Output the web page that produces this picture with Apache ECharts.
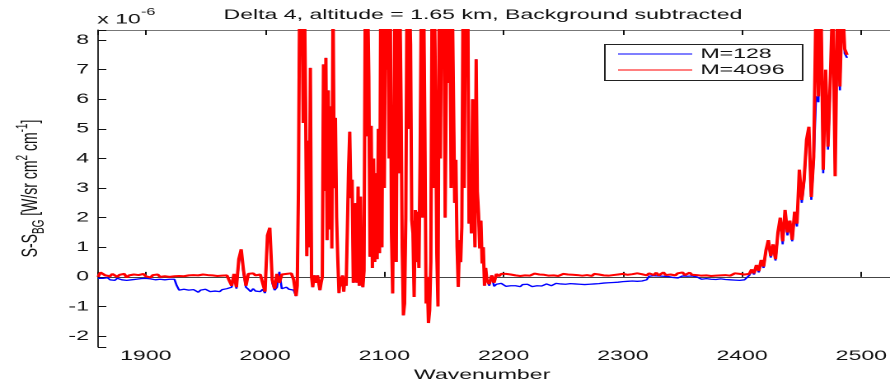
<!DOCTYPE html>
<html><head><meta charset="utf-8">
<script src="https://cdn.jsdelivr.net/npm/echarts@6/dist/echarts.min.js"></script>
<style>
html,body{margin:0;padding:0;background:#fff;overflow:hidden;}
#wrap{width:890px;height:379px;overflow:hidden;}
#chart{width:540px;height:379px;transform:scaleX(1.648148);transform-origin:0 0;}
</style></head><body><div id="wrap"><div id="chart"></div></div>
<script>
// Wavenumber grid segments (start, step) and values in units of 1e-6 W/sr cm^2 cm^-1
const lowStart = 1860, lowStep = 2;
const lowM4096 = [
0.0,0.15,0.1,0.05,0.08,0.02,0.1,0.05,0.0,0.07,
0.03,0.1,-0.02,0.05,0.0,0.08,0.02,0.06,0.0,0.1,
0.02,0.05,-0.02,0.06,0.02,0.08,0.0,0.05,0.02,0.07,
0.0,0.04,0.02,0.05,0.03,0.06,0.02,0.04,0.05,0.02,
0.06,0.03,0.05,0.02,0.08,0.04,0.06,0.02,0.05,0.08,
0.03,0.06,0.04,0.02,0.05,0.0,-0.3,0.1,-0.35,0.6,
0.93,0.2,-0.3,0.1,0.08,0.12,0.05,0.1,0.08,0.05,
-0.5,1.4,1.66,-0.1,-0.4,0.1,-0.2,0.08,0.05,0.1,
0.06,0.12,-0.1];
const lowM128 = [
-0.05,-0.1,-0.05,-0.08,-0.03,-0.1,-0.05,-0.12,-0.05,-0.08,
-0.1,-0.04,-0.12,-0.06,-0.1,-0.05,-0.08,-0.12,-0.06,-0.1,
-0.05,-0.1,-0.07,-0.05,-0.1,-0.06,-0.08,-0.04,-0.1,-0.06,
-0.08,-0.05,-0.08,-0.3,-0.45,-0.5,-0.42,-0.48,-0.45,-0.5,
-0.43,-0.47,-0.52,-0.45,-0.48,-0.42,-0.47,-0.5,-0.44,-0.48,
-0.45,-0.5,-0.43,-0.47,-0.4,-0.45,-0.35,0.05,-0.4,0.5,
0.85,0.1,-0.35,-0.42,-0.5,-0.4,-0.48,-0.45,-0.5,-0.42,
-0.55,1.35,1.6,-0.2,-0.45,-0.35,0.17,-0.4,-0.45,-0.35,
-0.42,-0.38,-0.45];

const bandStart = 2026, bandStep = 1;
const bandM4096 = [
-0.65,-0.3,3.0,9.5,7.5,9.5,5.2,9.5,5.9,0.7,
4.6,1.0,7.06,0.0,-0.35,0.05,0.1,-0.2,0.05,0.1,
-0.45,-0.2,0.0,7.18,2.9,7.4,1.24,6.3,1.6,5.76,
0.96,9.5,3.0,5.37,2.0,0.57,-0.55,0.0,-0.32,0.05,
-0.5,0.0,-0.3,1.58,3.62,4.9,2.66,3.28,-0.2,0.0,
2.49,-0.2,3.05,-0.3,2.71,0.0,-0.35,0.2,9.5,4.75,
9.5,6.77,0.68,5.1,0.3,4.0,0.5,3.5,0.6,5.0,
0.8,9.5,1.0,9.5,3.0,9.5,7.0,9.5,4.0,9.5,
1.5,-0.56,4.63,9.5,0.5,9.5,3.5,9.5,6.0,1.0,
-1.3,-0.9,2.0,9.5,5.0,9.5,7.85,1.92,1.47,-0.68,
2.26,0.5,2.2,0.3,4.0,9.5,2.0,9.5,5.0,-0.9,
0.0,-1.56,-1.13,0.5,9.5,3.0,9.5,6.0,0.8,-1.0,
9.5,4.0,9.5,7.5,9.5,2.0,6.77,9.5,6.55,9.5,
3.0,9.5,5.98,2.5,3.95,1.0,-0.34,1.24,0.5,1.7,
9.5,3.0,9.5,7.8,9.5,1.8,3.73,1.47,6.0,2.88,
1.0,7.35,2.88,2.15,0.96,1.9,0.45,1.0,-0.3,0.3,
-0.1];
const bandM128 = bandM4096; // the two spectra coincide inside the absorption band

const highStart = 2188, highStep = 2;
const highM4096 = [
-0.25,0.05,-0.2,0.1,0.02,0.1,0.06,0.1,0.04,0.08,
0.12,0.05,0.08,0.03,0.09,0.05,0.1,0.04,0.07,0.11,
0.05,0.08,0.02,0.07,0.1,0.04,0.08,0.05,0.1,0.03,
0.06,0.1,0.05,0.08,0.03,0.07,0.12,0.06,0.09,0.04,
0.1,0.06,0.08,0.03,0.1,0.05,0.08,0.12,0.05,0.08,
0.04,0.1,0.06,0.03,0.08,0.05,0.1,0.04,0.07,0.03,
0.09,0.05,0.12,0.06,0.09,0.15,0.05,0.12,0.18,0.06,
0.14,0.05,0.1,0.15,0.06,0.12,0.08,0.14,0.05,0.12,
0.08,0.15,0.06,0.1,0.14,0.07,0.12,0.06,0.1,0.04,
0.08,0.05,0.1,0.03,0.07,0.04,0.08,0.05,0.1,0.06,
0.09,0.04,0.1,0.12,0.06,0.1,0.05,0.08,0.02,0.1,
0.25,0.12,0.4,0.2,0.57,0.35,0.9,1.24,0.7,1.1,
0.6,1.5,2.0,1.2,2.26,1.5,1.9,1.25,2.2,1.8,
3.62,2.6,3.3,4.63,5.07,2.7,4.05,9.5,6.1,9.5,
3.62,7.0,4.4,6.77,9.5,3.4,9.5,6.43,9.5,7.7,
7.5];
const highM128 = [
-0.3,0.05,-0.32,-0.25,-0.3,-0.22,-0.28,-0.32,-0.26,-0.3,
-0.24,-0.3,-0.27,-0.33,-0.26,-0.3,-0.25,-0.29,-0.33,-0.27,
-0.3,-0.26,-0.31,-0.28,-0.24,-0.28,-0.3,-0.25,-0.22,-0.27,
-0.24,-0.28,-0.25,-0.3,-0.23,-0.27,-0.24,-0.28,-0.25,-0.22,
-0.26,-0.23,-0.25,-0.21,-0.24,-0.2,-0.23,-0.26,-0.21,-0.24,
-0.2,-0.23,-0.19,-0.22,-0.18,-0.2,-0.16,-0.19,-0.15,-0.18,
-0.14,-0.17,-0.15,-0.18,-0.14,-0.16,-0.1,0.02,0.0,0.04,
-0.02,0.03,-0.01,0.02,-0.03,0.01,0.04,-0.02,0.02,-0.04,
0.01,0.03,-0.02,0.02,-0.01,0.03,-0.03,0.0,-0.04,-0.08,
-0.1,-0.06,-0.11,-0.08,-0.12,-0.09,-0.11,-0.07,-0.12,-0.09,
-0.13,-0.1,-0.08,-0.11,-0.09,-0.12,-0.08,-0.1,-0.05,0.05,
0.2,0.08,0.35,0.15,0.5,0.3,0.85,1.15,0.65,1.0,
0.55,1.4,1.9,1.1,2.1,1.4,1.8,1.2,2.1,1.7,
3.5,2.5,3.2,4.5,4.95,2.6,3.9,6.1,5.9,9.5,
3.5,6.9,4.3,6.6,9.5,3.5,9.5,6.3,9.5,7.55,
7.4];

const xTicks = [1900, 2000, 2100, 2200, 2300, 2400, 2500];
const yTicks = [-2, -1, 0, 1, 2, 3, 4, 5, 6, 7, 8];
const seriesNames = ['M=128', 'M=4096'];

function seg(start, step, vals) { return vals.map((v, i) => [start + step * i, v]); }
const dataM128 = [].concat(seg(lowStart, lowStep, lowM128), seg(bandStart, bandStep, bandM128), seg(highStart, highStep, highM128));
const dataM4096 = [].concat(seg(lowStart, lowStep, lowM4096), seg(bandStart, bandStep, bandM4096), seg(highStart, highStep, highM4096));

const FONT = "'Liberation Sans', Arial, sans-serif";
const FS = 14;
const chart = echarts.init(document.getElementById('chart'), null, {renderer: 'canvas', devicePixelRatio: 2});
const xCommon = {
  type: 'value', min: 1860, max: 2524, minInterval: 100, maxInterval: 100, splitLine: {show: false},
  axisTick: {show: true, inside: true, length: 5, lineStyle: {color: '#111', width: 1}}
};
chart.setOption({
  animation: false,
  backgroundColor: '#fff',
  title: {
    text: 'Delta 4, altitude = 1.65 km, Background subtracted',
    left: 293, top: 8, textAlign: 'center', padding: 0,
    textStyle: {fontSize: FS, fontWeight: 'normal', color: '#111', fontFamily: FONT}
  },
  grid: {left: 59.5, right: 0, top: 30, bottom: 32, containLabel: false, outerBoundsMode: 'none'},
  legend: {
    data: seriesNames, orient: 'vertical', left: 375, top: 46, padding: 0, itemGap: 0,
    itemWidth: 45, itemHeight: 1, icon: 'rect', selectedMode: false,
    textStyle: {fontSize: FS, lineHeight: 16, color: '#111', fontFamily: FONT}
  },
  graphic: [
    {type: 'rect', z: 3, left: 366.5, top: 44, shape: {width: 120, height: 36},
     style: {fill: '#fff', stroke: '#222', lineWidth: 1}},
    {type: 'text', z: 3, left: 59, top: 7,
     style: {text: '{a|x 10}{b|-6}', fill: '#111',
       rich: {a: {fontSize: FS, lineHeight: 25, fontFamily: FONT, fill: '#111'},
              b: {fontSize: 10, verticalAlign: 'top', fontFamily: FONT, fill: '#111'}}}}
  ],
  xAxis: [
    Object.assign({}, xCommon, {
      position: 'bottom',
      name: 'Wavenumber', nameLocation: 'middle', nameGap: 16,
      nameTextStyle: {fontSize: FS, color: '#111', fontFamily: FONT, padding: [0, 14.5, 0, 0]},
      axisLine: {show: true, lineStyle: {color: '#444', width: 1}},
      axisLabel: {customValues: xTicks, margin: 2, fontSize: FS, color: '#111', fontFamily: FONT,
                  formatter: v => String(v)}
    }),
    Object.assign({}, xCommon, {
      position: 'top',
      axisLine: {show: true, lineStyle: {color: '#777', width: 1}},
      axisLabel: {show: false}
    })
  ],
  yAxis: {
    type: 'value', min: -2.37, max: 8.34, minInterval: 1, maxInterval: 1, splitLine: {show: false},
    axisLine: {show: true, lineStyle: {color: '#333', width: 1}},
    axisTick: {show: true, inside: true, length: 5, lineStyle: {color: '#111', width: 1}},
    axisLabel: {customValues: yTicks, margin: 5.5, fontSize: FS, color: '#111', fontFamily: FONT,
                formatter: v => String(v)},
    name: '{n|S-S}{sub|BG}{n| [W/sr cm}{sup|2}{n| cm}{sup|-1}{n|]}',
    nameLocation: 'middle', nameGap: 31,
    nameTextStyle: {
      fontSize: FS, color: '#111', fontFamily: FONT,
      rich: {
        n: {fontSize: FS, lineHeight: 20, fontFamily: FONT, color: '#111'},
        sub: {fontSize: 10, verticalAlign: 'bottom', fontFamily: FONT, color: '#111'},
        sup: {fontSize: 10, verticalAlign: 'top', fontFamily: FONT, color: '#111'}
      }
    }
  },
  series: [
    {name: seriesNames[0], type: 'line', data: dataM128, showSymbol: false, symbol: 'none',
     clip: true, color: '#0000ff', lineStyle: {color: '#0000ff', width: 1.3}, z: 2},
    {name: seriesNames[1], type: 'line', data: dataM4096, showSymbol: false, symbol: 'none',
     clip: true, color: '#ff0000', lineStyle: {color: '#ff0000', width: 2}, z: 2}
  ]
});
</script>
</body></html>
